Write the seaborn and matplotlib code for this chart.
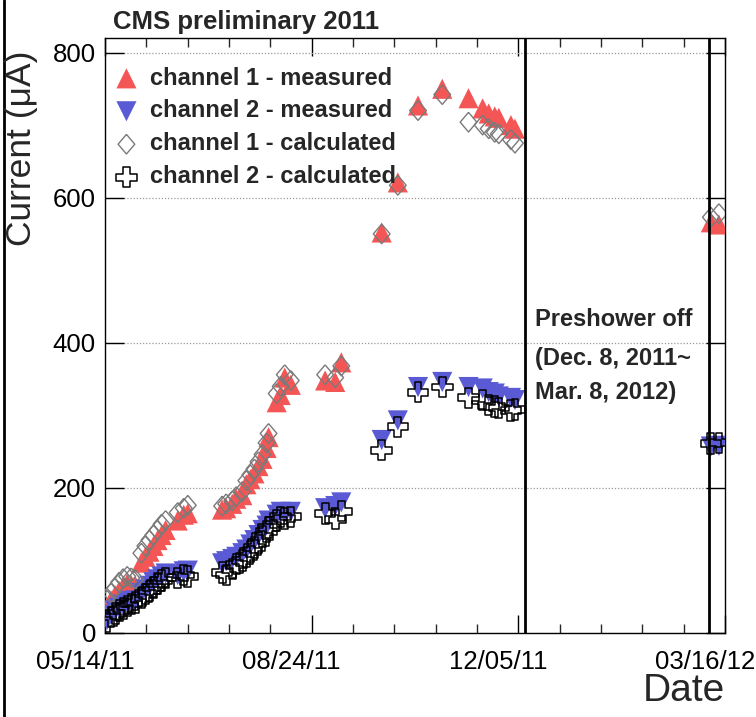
import numpy as np
import pandas as pd
import matplotlib
matplotlib.use("Agg")
import matplotlib.pyplot as plt
import matplotlib.dates as mdates
from matplotlib.lines import Line2D
from matplotlib.ticker import FixedLocator
from matplotlib.transforms import ScaledTranslation
import seaborn as sns

# ---------------- data ----------------
dates = [
    "2011-05-15", "2011-05-17", "2011-05-19", "2011-05-21", "2011-05-23", "2011-05-25", "2011-05-27", "2011-05-29",
    "2011-06-01", "2011-06-03", "2011-06-05", "2011-06-07", "2011-06-09", "2011-06-11", "2011-06-13",
    "2011-06-19", "2011-06-22", "2011-06-24",
    "2011-07-11", "2011-07-13", "2011-07-16", "2011-07-18", "2011-07-21", "2011-07-23", "2011-07-25", "2011-07-27",
    "2011-07-29", "2011-07-31", "2011-08-02", "2011-08-03", "2011-08-07", "2011-08-09", "2011-08-11", "2011-08-14",
    "2011-08-31", "2011-09-05", "2011-09-08",
    "2011-09-28", "2011-10-06", "2011-10-16", "2011-10-28", "2011-11-10", "2011-11-17", "2011-11-20", "2011-11-23",
    "2011-11-25", "2011-12-01", "2011-12-03",
    "2012-03-09", "2012-03-13",
]
ch1_measured = [
    35, 45, 52, 58, 64, 68, 66, 65,
    97, 105, 112, 120, 128, 135, 142,
    155, 163, 165,
    170, 172, 178, 185, 190, 205, 212, 220, 230, 240, 255, 270, 318, 328, 352, 342,
    348, 346, 373,
    552, 621, 727, 750, 737, 723, 716, 712, 710, 700, 695,
    566, 563,
]
ch2_measured = [
    18, 25, 31, 35, 39, 42, 44, 45,
    55, 60, 65, 70, 74, 78, 82,
    80, 85, 86,
    96, 99, 102, 105, 110, 115, 122, 128, 135, 142, 148, 155, 163, 167, 165, 167,
    172, 175, 180,
    266, 293, 339, 346, 339, 337, 332, 330, 326, 324, 321,
    257, 258,
]
ch1_calculated = [
    45, 55, 62, 70, 75, 78, 76, 74,
    110, 120, 128, 135, 142, 150, 155,
    166, 172, 176,
    175, 178, 182, 188, 195, 210, 218, 226, 236, 246, 262, 275, 330, 340, 356, 348,
    356, 352, 368,
    550, 617, 720, 742, 704, 700, 695, 690, 688, 680, 675,
    573, 578,
]
ch2_calculated = [
    15, 22, 27, 31, 34, 37, 40, 42,
    48, 54, 58, 63, 68, 72, 76,
    76, 80, 78,
    83, 80, 88, 95, 100, 105, 112, 118, 125, 133, 140, 145, 155, 160, 158, 160,
    165, 157, 168,
    252, 284, 332, 339, 324, 321, 314, 312, 310, 307, 308,
    261, 262,
]
x_range = ["2011-05-14", "2012-03-16"]
x_tick_labels = ["05/14/11", "08/24/11", "12/05/11", "03/16/12"]
y_ticks = [0, 200, 400, 600, 800]
preshower_off = ["2011-12-08", "2012-03-08"]

df = pd.DataFrame({
    "date": pd.to_datetime(dates),
    "ch1_measured": ch1_measured,
    "ch2_measured": ch2_measured,
    "ch1_calculated": ch1_calculated,
    "ch2_calculated": ch2_calculated,
})

# ---------------- style ----------------
sns.set_style("ticks")
plt.rcParams["font.family"] = ["Liberation Sans", "DejaVu Sans"]

W, H = 756, 717
fig = plt.figure(figsize=(W / 100, H / 100), dpi=100)
ax = fig.add_axes([105 / W, (H - 633) / H, 620 / W, 595 / H])

RED = "#F45656"
BLUE = "#5A5AD4"

sns.scatterplot(data=df, x="date", y="ch1_measured", marker="^", s=210, color=RED,
                edgecolor="none", linewidth=0, ax=ax, label="channel 1 - measured", zorder=3)
sns.scatterplot(data=df, x="date", y="ch2_measured", marker="v", s=210, color=BLUE,
                edgecolor="none", linewidth=0, ax=ax, label="channel 2 - measured", zorder=3)
diamond = [(0, 1), (0.85, 0), (0, -1), (-0.85, 0), (0, 1)]
sns.scatterplot(data=df, x="date", y="ch1_calculated", marker=diamond, s=200, facecolor="none",
                edgecolor="#7a7a7a", linewidth=1.0, ax=ax, label="channel 1 - calculated", zorder=4)
sns.scatterplot(data=df, x="date", y="ch2_calculated", marker="P", s=220, facecolor="none",
                edgecolor="black", linewidth=1.1, ax=ax, label="channel 2 - calculated", zorder=4)

for d in preshower_off:
    ax.axvline(pd.Timestamp(d), color="black", lw=2.0, zorder=5)

x0, x1 = [mdates.date2num(pd.Timestamp(v)) for v in x_range]
ax.set_xlim(x0, x1)
ax.set_ylim(0, 820)

ax.xaxis.set_major_locator(FixedLocator(np.linspace(x0, x1, 4)))
ax.xaxis.set_minor_locator(FixedLocator(np.linspace(x0, x1, 16)))
ax.set_xticklabels(x_tick_labels)
ax.set_yticks(y_ticks)

ax.tick_params(axis="x", which="major", direction="in", length=13, width=1.0,
               top=True, bottom=True, labelsize=18.5, pad=12, colors="black")
ax.tick_params(axis="x", which="minor", direction="in", length=6.5, width=1.0,
               top=True, bottom=True)
ax.tick_params(axis="y", which="major", direction="in", length=14, width=1.0,
               left=True, right=True, labelsize=18.5, pad=6.5, colors="black")

ax.yaxis.grid(True, linestyle=(0, (1, 1.5)), color="#9a9a9a", linewidth=0.9)
ax.xaxis.grid(False)
ax.set_axisbelow(True)
for sp in ax.spines.values():
    sp.set_color("black")
    sp.set_linewidth(1.0)

ax.set_ylabel("")
fig.text(22 / W, 1 - 50 / H, "Current (μA)", fontsize=25.5, rotation=90,
         ha="center", va="top")
ax.set_xlabel("Date", fontsize=28, loc="right")
ax.xaxis.set_label_coords(1.0, -0.067)

leg = ax.legend(loc="upper left", bbox_to_anchor=((117 - 105) / 620, 0.952), frameon=False,
                borderpad=0, borderaxespad=0, handlelength=0.8, handletextpad=0.6,
                labelspacing=0.42, prop={"size": 17, "weight": "bold"})

ann_x = (535 - 105) / 620
for txt, yc in [("Preshower off", 320), ("(Dec. 8, 2011~", 358), ("Mar. 8, 2012)", 393)]:
    ax.text(ann_x, (633 - yc) / 595, txt, transform=ax.transAxes, fontsize=17,
            fontweight="bold", va="center", ha="left")

fig.text(113 / W, 1 - 22 / H, "CMS preliminary 2011", fontsize=18.5, fontweight="bold",
         va="center", ha="left")
fig.add_artist(Line2D([4 / W, 4 / W], [0, 1], transform=fig.transFigure, color="black", lw=2))

fig.canvas.draw()
shift = ScaledTranslation(-20 / 100, 0, fig.dpi_scale_trans)
for t in ax.xaxis.get_major_ticks():
    t.label1.set_transform(t.label1.get_transform() + shift)

fig.savefig("out.png", dpi=100)
